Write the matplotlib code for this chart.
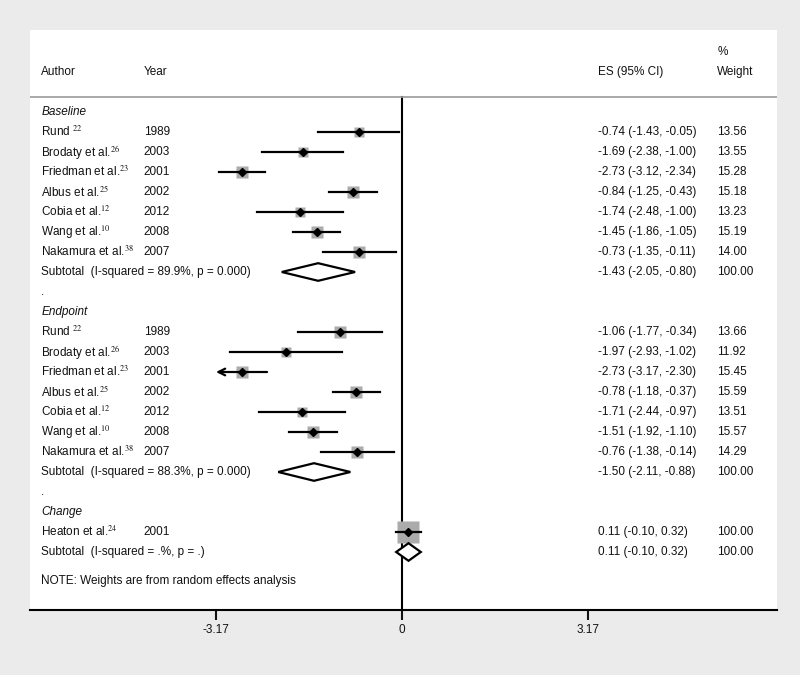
import numpy as np
import matplotlib
matplotlib.use("Agg")
import matplotlib.pyplot as plt
from matplotlib.patches import Polygon

plt.rcParams['font.family'] = ['Liberation Sans', 'DejaVu Sans']
plt.rcParams['mathtext.fontset'] = 'stix'

# study data
authors = ["Rund ", "Brodaty et al.", "Friedman et al.", "Albus et al.",
           "Cobia et al.", "Wang et al.", "Nakamura et al."]
refs = ["22", "26", "23", "25", "12", "10", "38"]
years = [1989, 2003, 2001, 2002, 2012, 2008, 2007]

baseline_es = [-0.74, -1.69, -2.73, -0.84, -1.74, -1.45, -0.73]
baseline_lo = [-1.43, -2.38, -3.12, -1.25, -2.48, -1.86, -1.35]
baseline_hi = [-0.05, -1.00, -2.34, -0.43, -1.00, -1.05, -0.11]
baseline_w = [13.56, 13.55, 15.28, 15.18, 13.23, 15.19, 14.00]

endpoint_es = [-1.06, -1.97, -2.73, -0.78, -1.71, -1.51, -0.76]
endpoint_lo = [-1.77, -2.93, -3.17, -1.18, -2.44, -1.92, -1.38]
endpoint_hi = [-0.34, -1.02, -2.30, -0.37, -0.97, -1.10, -0.14]
endpoint_w = [13.66, 11.92, 15.45, 15.59, 13.51, 15.57, 14.29]

change_author = ["Heaton et al."]
change_ref = ["24"]
change_year = [2001]
change_es = [0.11]
change_lo = [-0.10]
change_hi = [0.32]
change_w = [100.00]

# subtotals: es, lo, hi, label
sub_es = [-1.43, -1.50, 0.11]
sub_lo = [-2.05, -2.11, -0.10]
sub_hi = [-0.80, -0.88, 0.32]
sub_lab = ["Subtotal  (I-squared = 89.9%, p = 0.000)",
           "Subtotal  (I-squared = 88.3%, p = 0.000)",
           "Subtotal  (I-squared = .%, p = .)"]
sections = ["Baseline", "Endpoint", "Change"]
xticks = [-3.17, 0, 3.17]

fs = 8.5
tc = '#111111'

fig = plt.figure(figsize=(8, 6.75), dpi=100, facecolor='#ebebeb')
ax = fig.add_axes([30/800, 65/675, 747/800, 580/675])
ax.set_facecolor('white')
ax.set_xlim(-6.34, 6.39)
ax.set_ylim(24.9, -4.1)
for s in ['top', 'left', 'right']:
    ax.spines[s].set_visible(False)
ax.spines['bottom'].set_linewidth(1.5)
ax.set_yticks([])
ax.set_xticks(xticks)
ax.set_xticklabels(['-3.17', '0', '3.17'])
ax.tick_params(axis='x', length=7, width=1.5, pad=3, labelsize=fs, colors=tc)

x_auth, x_year, x_es, x_wt = -6.15, -4.40, 3.34, 5.37

# header
ax.text(x_auth, -2, "Author", fontsize=fs, color=tc, va='center')
ax.text(x_year, -2, "Year", fontsize=fs, color=tc, va='center')
ax.text(x_es, -2, "ES (95% CI)", fontsize=fs, color=tc, va='center')
ax.text(x_wt, -2, "Weight", fontsize=fs, color=tc, va='center')
ax.text(x_wt, -3, "%", fontsize=fs, color=tc, va='center')
ax.axhline(-0.75, color='#9a9a9a', lw=1.2)
ax.plot([0, 0], [-0.75, 24.9], color='black', lw=1.5, zorder=1)

xclip = -3.17


def study(y, name, ref, yr, es, lo, hi, w):
    ax.text(x_auth, y, name + "$^{" + ref + "}$", fontsize=fs, color=tc, va='center')
    ax.text(x_year, y, str(yr), fontsize=fs, color=tc, va='center')
    ax.text(x_es, y, "%.2f (%.2f, %.2f)" % (es, lo, hi), fontsize=fs, color=tc, va='center')
    ax.text(x_wt, y, "%.2f" % w, fontsize=fs, color=tc, va='center')
    side = (4 + 19 * np.sqrt(w / 100.0)) * 0.72
    ax.plot(es, y, marker='s', ms=side, color='#ababab', mec='none', zorder=2)
    if lo <= xclip:
        ax.annotate('', xy=(lo, y), xytext=(hi, y), zorder=3,
                    arrowprops=dict(arrowstyle='->', lw=1.6, color='black',
                                    shrinkA=0, shrinkB=0, mutation_scale=12))
    else:
        ax.plot([lo, hi], [y, y], color='black', lw=1.6, zorder=3)
    ax.plot(es, y, marker='D', ms=4, color='black', zorder=4)


def subtotal(y, lab, es, lo, hi, w):
    ax.text(x_auth, y, lab, fontsize=fs, color=tc, va='center')
    ax.text(x_es, y, "%.2f (%.2f, %.2f)" % (es, lo, hi), fontsize=fs, color=tc, va='center')
    ax.text(x_wt, y, "%.2f" % w, fontsize=fs, color=tc, va='center')
    h = 0.44
    d = Polygon([[lo, y], [es, y - h], [hi, y], [es, y + h]], closed=True,
                facecolor='white', edgecolor='black', lw=1.6, zorder=5)
    ax.add_patch(d)


groups = [
    (authors, refs, years, baseline_es, baseline_lo, baseline_hi, baseline_w),
    (authors, refs, years, endpoint_es, endpoint_lo, endpoint_hi, endpoint_w),
    (change_author, change_ref, change_year, change_es, change_lo, change_hi, change_w),
]

row = 0
for g, (names, rf, yrs, es, lo, hi, w) in enumerate(groups):
    ax.text(x_auth, row, sections[g], fontsize=fs, color=tc, va='center', style='italic')
    row += 1
    for i in range(len(names)):
        study(row, names[i], rf[i], yrs[i], es[i], lo[i], hi[i], w[i])
        row += 1
    subtotal(row, sub_lab[g], sub_es[g], sub_lo[g], sub_hi[g], 100.00)
    row += 1
    ax.text(x_auth, row, ".", fontsize=fs, color=tc, va='center')
    row += 1

ax.text(x_auth, 23.45, "NOTE: Weights are from random effects analysis",
        fontsize=fs, color=tc, va='center')

fig.savefig("out.png", dpi=100, facecolor=fig.get_facecolor())
